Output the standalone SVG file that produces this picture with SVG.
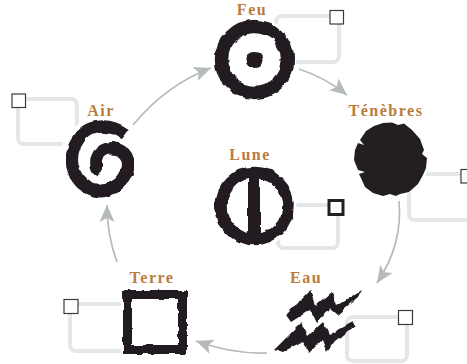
<svg xmlns="http://www.w3.org/2000/svg" width="467" height="364" viewBox="0 0 467 364">
<style>
.lbl{font-family:"Liberation Serif",serif;font-weight:700;font-size:16px;letter-spacing:1.5px;fill:#b97c3e;text-anchor:middle}
.box{fill:none;stroke:#e3e7ea;stroke-width:4;filter:url(#soft)}
.chk{fill:#fff;stroke:#3c3a3a;stroke-width:1.2}
.ink{fill:none;stroke:#231f20}
.solid{fill:#231f20;stroke:none}
.halo{fill:#fff;stroke:none}
.arc{fill:none;stroke:#b5bbb9;stroke-width:1.7;marker-end:url(#head)}
</style>
<defs>
<marker id="head" markerUnits="userSpaceOnUse" markerWidth="20" markerHeight="20" refX="18" refY="10" orient="auto">
<path d="M18 10L1 2.500L5 10L1 17.500Z" fill="#b5bbb9"/>
</marker>
<filter id="rough" x="-10%" y="-10%" width="120%" height="120%">
<feTurbulence type="fractalNoise" baseFrequency="0.09" numOctaves="2" seed="4"/>
<feDisplacementMap in="SourceGraphic" scale="5" xChannelSelector="R" yChannelSelector="G"/>
</filter>
<filter id="soft" x="-10%" y="-10%" width="120%" height="120%"><feGaussianBlur stdDeviation="0.6"/></filter>
</defs>
<g id="connectors">
<path class="arc" d="M133 125Q166 85 211 68"/>
<path class="arc" d="M299 69Q326 78 347 95"/>
<path class="arc" d="M399 201Q403 244 377 283"/>
<path class="arc" d="M267 353Q232 354 196 341"/>
<path class="arc" d="M117 262Q107 235 107 205"/>
</g>
<g id="feu">
<rect class="box" x="276" y="16" width="63" height="46" rx="6"/>
<rect class="chk" x="330" y="10.500" width="13.500" height="13.500"/>
<circle class="halo" cx="254.500" cy="59.500" r="42"/>
<g filter="url(#rough)"><circle class="ink" cx="254.500" cy="59.500" r="33" stroke-width="13.500"/><circle class="solid" cx="254.500" cy="60" r="8"/></g>
<text class="lbl" x="252" y="15">Feu</text>
</g>
<g id="tenebres">
<rect class="box" x="409" y="174" width="70" height="46" rx="6"/>
<rect class="chk" x="461" y="169.500" width="13.500" height="13.500"/>
<circle class="halo" cx="390.500" cy="159" r="39"/>
<path class="solid" d="M383 123L392 122.500L398 125L404 123.500L412 130L420 139L424 150L422 154L427 158L426 168L423 175L418 184L409 192L400 194L396 196L390 194L383 196L373 193L365 187L361 178L359 174L365 172L358 170L354 160L355 150L358 143L364 145L360 140L366 131L374 126Z"/>
<text class="lbl" x="386" y="116">Ténèbres</text>
</g>
<g id="air">
<rect class="box" x="18" y="99" width="59" height="45" rx="6"/>
<rect class="chk" x="12" y="94" width="13.500" height="13.500"/>
<circle class="halo" cx="100" cy="158" r="40"/>
<path class="ink" filter="url(#rough)" stroke-width="12.500" stroke-linecap="butt" d="M125 134C108 122 86 125 78 140C67 156 71 178 88 188C105 197 126 184 128 167C130 151 114 145 104 150C95 155 94 167 101 171"/>
<text class="lbl" x="101" y="116">Air</text>
</g>
<g id="lune">
<rect class="box" x="278" y="205" width="60" height="43" rx="6"/>
<rect class="chk" style="stroke-width:3;stroke:#231f20" x="329" y="200.500" width="14" height="14"/>
<circle class="halo" cx="254.500" cy="206" r="42"/>
<g filter="url(#rough)"><circle class="ink" cx="254.500" cy="206" r="33.500" stroke-width="11.500"/><path class="ink" stroke-width="12" d="M254 170V242"/></g>
<text class="lbl" x="250" y="160">Lune</text>
</g>
<g id="eau">
<rect class="box" x="347" y="317" width="60" height="44" rx="6"/>
<rect class="chk" x="398.500" y="310.500" width="14" height="14"/>
<g filter="url(#rough)">
<path class="solid" d="M286 315L311 290L316 305L332 291L337 306L361 291L358 297L337 315L330 309L316 322L310 310L291 322Z"/>
<path class="solid" d="M274 350L302 322L308 336L323 322L329 335L353 322L355 326L331 345L327 353L322 340L309 353L303 342L283 353Z"/>
</g>
<text class="lbl" x="306" y="283">Eau</text>
</g>
<g id="terre">
<rect class="box" x="70" y="304" width="60" height="47" rx="6"/>
<rect class="chk" x="64" y="299.500" width="14" height="14"/>
<rect class="halo" x="121" y="288" width="68" height="68"/>
<rect class="ink" filter="url(#rough)" x="127.500" y="294.500" width="55" height="55" stroke-width="9"/>
<text class="lbl" x="152" y="283">Terre</text>
</g>
</svg>
